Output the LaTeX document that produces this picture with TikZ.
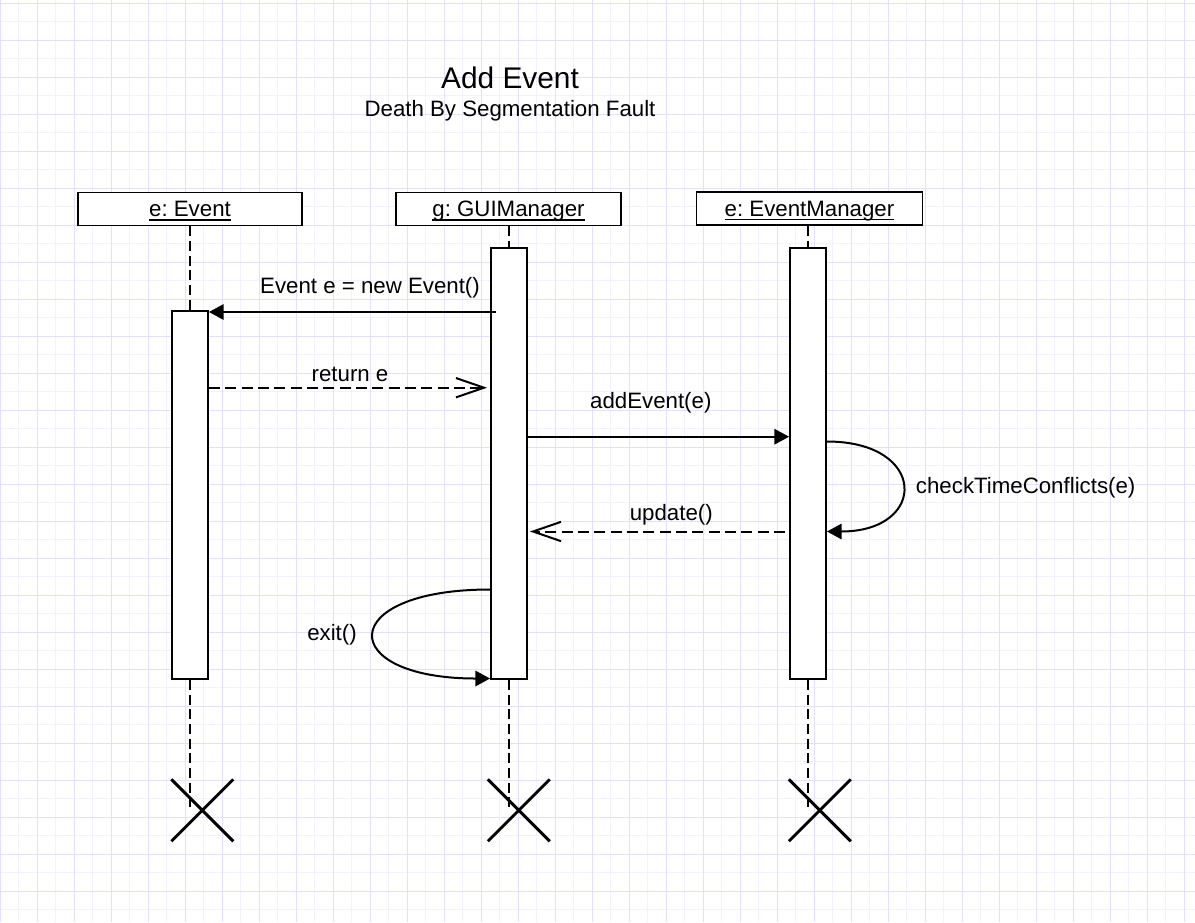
\documentclass[tikz,border=0pt]{standalone}
\usepackage{fontspec}
\setmainfont{Liberation Sans}
\usetikzlibrary{arrows.meta,calc,shapes.misc}
\definecolor{gridmaj}{RGB}{226,223,255}
\definecolor{gridmin}{RGB}{242,241,255}
\newcommand\objname[1]{\setbox0\hbox{#1}\rlap{\rule[-2.9pt]{\wd0}{1.1pt}}\box0}
\frenchspacing
\begin{document}
\begin{tikzpicture}[x=0.75pt,y=-0.75pt,
  lbl/.style={font=\fontsize{16.7}{20}\selectfont, inner sep=0pt, anchor=base},
  obj/.style={draw, fill=white, line width=1.4pt, minimum height=24.75pt, font=\fontsize{16.7}{20}\selectfont, inner sep=0pt, text height=13.6pt, text depth=2pt},
  act/.style={draw, fill=white, line width=1.4pt, minimum width=27pt, inner sep=0pt},
  life/.style={line width=1.4pt, dash pattern=on 7.5pt off 3.5pt},
  msg/.style={line width=1.5pt, -{Triangle[length=11pt,width=11.5pt]}},
  ret/.style={line width=1.5pt, dash pattern=on 8.25pt off 4pt, -{Straight Barb[length=21pt,width=14.5pt]}},
  kill/.style={cross out, draw, line width=2.2pt, minimum size=44.25pt, inner sep=0pt},
  gmin/.style={gridmin, line width=0.75pt},
  gmaj/.style={gridmaj, line width=0.75pt}
]
\useasboundingbox (0,0) rectangle (1195,922);
\fill[white] (0,0) rectangle (1195,922);
% grid
\foreach \i in {0,...,31} \draw[gmin] ({18.8+37*\i},0) -- ({18.8+37*\i},922);
\foreach \j in {0,...,24} \draw[gmin] (0,{21.8+37*\j}) -- (1195,{21.8+37*\j});
\foreach \i in {0,...,32} \draw[gmaj] ({0.3+37*\i},0) -- ({0.3+37*\i},922);
\foreach \j in {0,...,24} \draw[gmaj] (0,{3.3+37*\j}) -- (1195,{3.3+37*\j});

% title
\node[lbl, font=\fontsize{22.4}{27}\selectfont] (title) at (510,88.3) {Add Event};
\node[lbl] (subtitle) at (510,116.7) {Death By Segmentation Fault};

% objects
\node[obj, minimum width=168pt] (ebox) at (190,209) {\objname{e: Event}};
\node[obj, minimum width=168.75pt] (gbox) at (508.5,209) {\objname{g: GUIManager}};
\node[obj, minimum width=169.5pt] (mbox) at (809.5,208.5) {\objname{e: EventManager}};

% activations
\node[act, minimum height=276pt] (eact) at (190,495) {};
\node[act, minimum height=323.25pt] (gact) at (509,463.5) {};
\node[act, minimum height=323.25pt] (mact) at (808,463.5) {};

% destruction marks
\node[kill] (ex) at (202.3,810.3) {};
\node[kill] (gx) at (518.8,810.3) {};
\node[kill] (mx) at (819.8,810.3) {};

% lifelines
\draw[life] (eact.north |- ebox.south) -- (eact.north);
\draw[life] (eact.south) -- (eact.south |- ex.center);
\draw[life] (gact.north |- gbox.south) -- (gact.north);
\draw[life] (gact.south) -- (gact.south |- gx.center);
\draw[life] (mact.north |- mbox.south) -- (mact.north);
\draw[life] (mact.south) -- (mact.south |- mx.center);

% message levels
\coordinate (m1) at (0,312);
\coordinate (m2) at (0,387.7);
\coordinate (m3) at (0,436.7);
\coordinate (c1) at (0,441.5);
\coordinate (c2) at (0,531.5);
\coordinate (m5) at (0,531.5);
\coordinate (x1) at (0,589.5);
\coordinate (x2) at (0,678.5);

% messages
\draw[msg] ($(gact.west |- m1)+(6,0)$) -- (eact.east |- m1);
\node[lbl] (l1) at (370,293) {Event e = new Event()};

\draw[ret, shorten >=2.25pt] (eact.east |- m2) -- (gact.west |- m2);
\node[lbl] (l2) at (350,381.7) {return e};

\draw[msg] (gact.east |- m3) -- (mact.west |- m3);
\node[lbl] (l3) at (650.8,408.3) {addEvent(e)};

\draw[msg] (mact.east |- c1) .. controls +(101,0) and +(101,0) .. (mact.east |- c2);
\node[lbl, anchor=base west] (l4) at (915.7,493.3) {checkTimeConflicts(e)};

\draw[ret, shorten >=1.5pt] ($(mact.west |- m5)+(-4,0)$) -- (gact.east |- m5);
\node[lbl] (l5) at (671.3,520) {update()};

\draw[msg] (gact.west |- x1) .. controls +(-155,0) and +(-155,0) .. (gact.west |- x2);
\node[lbl] (l6) at (332,640) {exit()};
\end{tikzpicture}
\end{document}
